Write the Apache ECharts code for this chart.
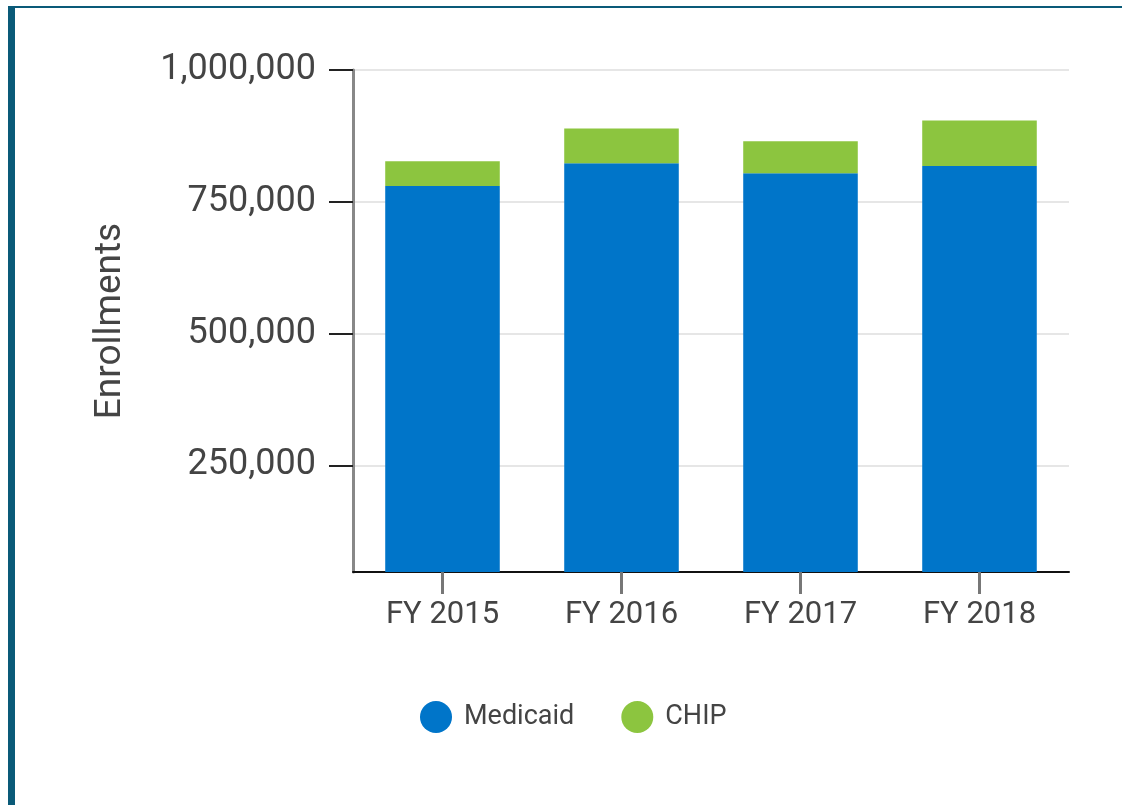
<!DOCTYPE html>
<html>
<head>
<meta charset="utf-8">
<script src="https://cdn.jsdelivr.net/npm/echarts@6/dist/echarts.min.js"></script>
<style>
  html, body { margin: 0; padding: 0; background: #fff; }
  #frame {
    position: absolute; left: 8px; top: 6px; right: 0; bottom: 0;
    border-left: 7px solid #0a5a78; border-top: 2px solid #0a5a78;
  }
  #chart { position: absolute; left: 0; top: 0; width: 1122px; height: 805px; }
</style>
</head>
<body>
<div id="frame"></div>
<div id="chart"></div>
<script>
// enrollment by fiscal year
const categories = ['FY 2015', 'FY 2016', 'FY 2017', 'FY 2018']
const medicaid = [780000, 823000, 804000, 818000]
const chip = [47000, 66000, 61000, 86000]
const yTicks = [250000, 500000, 750000, 1000000]

const chart = echarts.init(document.getElementById('chart'))

const option = {
  textStyle: { fontFamily: 'Roboto' },
  grid: {
    left: 353,
    right: 53,
    top: 70,
    bottom: 233
  },
  legend: {
    bottom: 67,
    left: 415,
    icon: 'circle',
    itemWidth: 32,
    itemHeight: 32,
    itemGap: 47,
    textStyle: { fontSize: 27, color: '#444', fontFamily: 'Roboto', padding: [0, 0, 0, 7] },
    data: ['Medicaid', 'CHIP']
  },
  xAxis: {
    type: 'category',
    data: categories,
    axisLine: { lineStyle: { color: '#111', width: 2 } },
    axisTick: {
      show: true,
      alignWithLabel: true,
      length: 22,
      lineStyle: { color: '#777', width: 3 }
    },
    axisLabel: { fontSize: 31, color: '#444', margin: 28 }
  },
  yAxis: {
    type: 'value',
    min: 47500,
    max: 1000000,
    name: 'Enrollments',
    nameLocation: 'middle',
    nameGap: 224,
    nameTextStyle: { fontSize: 37, color: '#444' },
    axisLine: { show: true, lineStyle: { color: '#888', width: 3 } },
    axisTick: {
      show: true,
      length: 24,
      customValues: yTicks,
      lineStyle: { color: '#222', width: 2 }
    },
    axisLabel: {
      fontSize: 36,
      color: '#444',
      margin: 37,
      customValues: yTicks,
      formatter: v => v.toLocaleString('en-US')
    },
    splitLine: { lineStyle: { color: '#e6e6e6', width: 2 } }
  },
  series: [
    {
      name: 'Medicaid',
      type: 'bar',
      stack: 'total',
      barWidth: '64%',
      data: medicaid,
      itemStyle: { color: '#0075c9' }
    },
    {
      name: 'CHIP',
      type: 'bar',
      stack: 'total',
      barWidth: '64%',
      data: chip,
      itemStyle: { color: '#8cc53f' }
    }
  ]
}
chart.setOption(option)
</script>
</body>
</html>
